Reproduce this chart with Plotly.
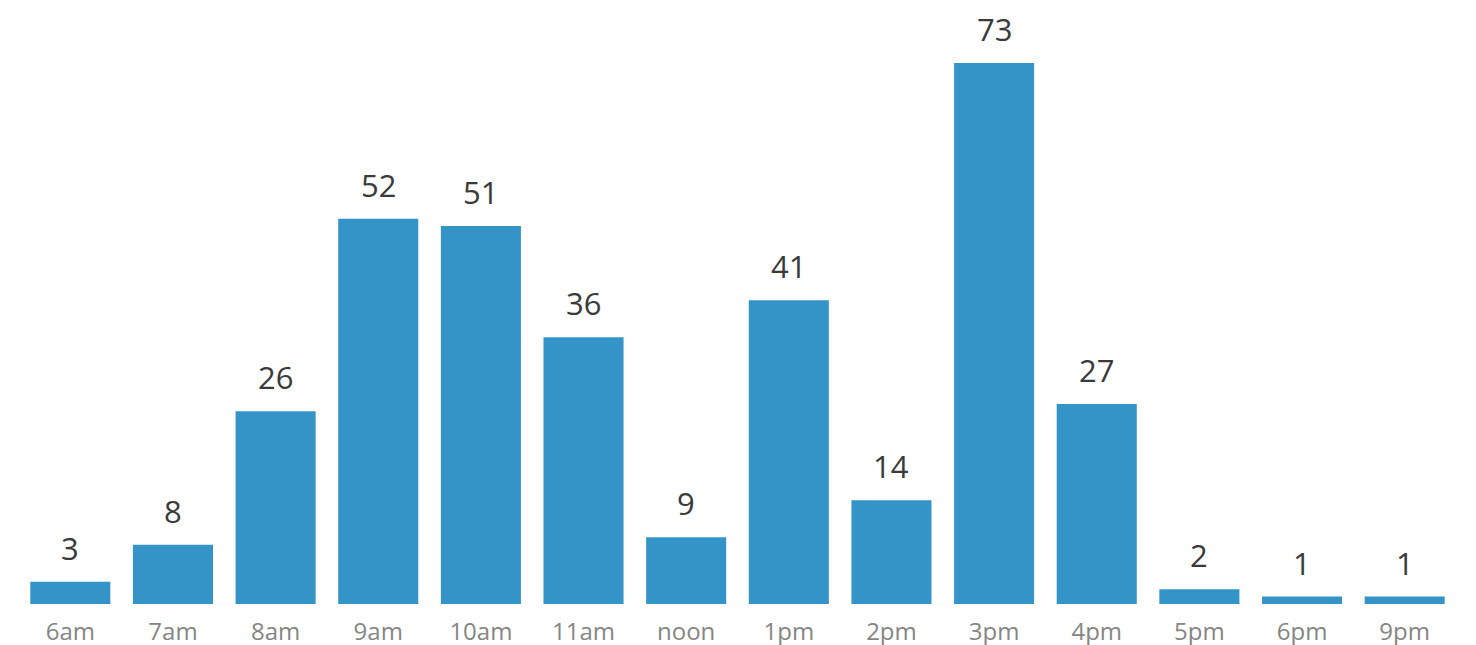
import plotly.graph_objects as go

categories = ["6am", "7am", "8am", "9am", "10am", "11am", "noon", "1pm", "2pm", "3pm", "4pm", "5pm", "6pm", "9pm"]
values = [3, 8, 26, 52, 51, 36, 9, 41, 14, 73, 27, 2, 1, 1]

fig = go.Figure()
fig.add_trace(go.Bar(
    x=categories, y=values,
    marker=dict(color="#3494C7", line=dict(width=0)),
    hoverinfo="x+y",
))

annotations = [
    dict(x=c, y=v, xref="x", yref="y", text=str(v), showarrow=False,
         yanchor="bottom", yshift=11,
         font=dict(family="Open Sans", size=31, color="#3a3a3a"))
    for c, v in zip(categories, values)
]

fig.update_layout(
    width=1476, height=645,
    margin=dict(l=11, r=28, t=55, b=49, autoexpand=False),
    paper_bgcolor="white", plot_bgcolor="white",
    bargap=0.22,
    showlegend=False,
    annotations=annotations,
    xaxis=dict(type="category", showgrid=False, showline=False, zeroline=False,
               automargin=False,
               ticks="outside", ticklen=6, tickcolor="rgba(0,0,0,0)",
               tickfont=dict(family="Open Sans", size=24, color="#858585")),
    yaxis=dict(range=[0, 73], visible=False, showgrid=False, zeroline=False,
               automargin=False),
)

fig.write_html("out.html")
